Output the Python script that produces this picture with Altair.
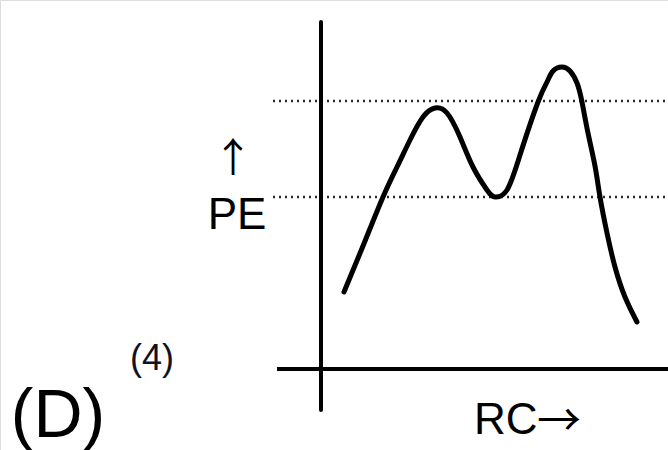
import altair as alt
import pandas as pd

# Potential-energy profile along the reaction coordinate (arbitrary units)
rc = [2.3, 4.2, 6.2, 7.6, 8.9, 10.2, 11.4, 12.6, 13.9, 15.2, 16.6, 17.4,
      18.6, 19.9, 21.7, 22.6, 23.2, 24.1, 24.9, 25.6, 26.1, 26.7, 27.4,
      27.9, 28.6, 29.4, 30.4, 31.6]
pe = [7.7, 12.3, 17.2, 20.2, 22.9, 25.2, 26.1, 25.6, 23.2, 20.2, 17.9, 17.2,
      17.9, 21.4, 26.7, 28.7, 29.8, 30.2, 29.8, 28.6, 26.7, 23.6, 20.3,
      17.2, 13.6, 10.2, 7.2, 4.7]

# Reference energy levels (dotted guides)
levels = [26.8, 17.2]

# Axis extents
x_axis_span = [-4.4, 34.7]
y_axis_span = [-4.1, 34.7]
guide_span = [-4.8, 34.7]

X_DOMAIN = [-32.1, 34.7]
Y_DOMAIN = [-8.1, 36.9]

xs = alt.Scale(domain=X_DOMAIN, nice=False, zero=False)
ys = alt.Scale(domain=Y_DOMAIN, nice=False, zero=False)
noax = None

curve_df = pd.DataFrame({"rc": rc, "pe": pe, "i": range(len(rc))})
guides_df = pd.DataFrame({"x": [guide_span[0]] * len(levels),
                          "x2": [guide_span[1]] * len(levels),
                          "y": levels})
xaxis_df = pd.DataFrame({"x": [x_axis_span[0]], "x2": [x_axis_span[1]], "y": [0.0]})
yaxis_df = pd.DataFrame({"x": [0.0], "y": [y_axis_span[0]], "y2": [y_axis_span[1]]})

guides = alt.Chart(guides_df).mark_rule(
    color="#2a2a2a", strokeWidth=2.5, strokeDash=[2, 4]
).encode(
    x=alt.X("x:Q", scale=xs, axis=noax),
    x2="x2:Q",
    y=alt.Y("y:Q", scale=ys, axis=noax),
)

x_line = alt.Chart(xaxis_df).mark_rule(color="black", strokeWidth=4).encode(
    x=alt.X("x:Q", scale=xs, axis=noax),
    x2="x2:Q",
    y=alt.Y("y:Q", scale=ys, axis=noax),
)

y_line = alt.Chart(yaxis_df).mark_rule(color="black", strokeWidth=4, strokeCap="round").encode(
    x=alt.X("x:Q", scale=xs, axis=noax),
    y=alt.Y("y:Q", scale=ys, axis=noax),
    y2="y2:Q",
)

curve = alt.Chart(curve_df).mark_line(
    color="black", strokeWidth=5, interpolate="natural", strokeCap="round"
).encode(
    x=alt.X("rc:Q", scale=xs, axis=noax),
    y=alt.Y("pe:Q", scale=ys, axis=noax),
    order="i:Q",
)

font = "Liberation Sans"
arrow_font = "Noto Sans CJK SC"

def label(txt, x, y, size, align="left", color="black", fnt=font, baseline="alphabetic"):
    return alt.Chart(pd.DataFrame({"t": [txt]})).mark_text(
        font=fnt, fontSize=size, align=align, baseline=baseline, color=color
    ).encode(x=alt.value(x), y=alt.value(y), text="t:N")

texts = [
    label("\u2191", 233, 160, 40, align="center", fnt=arrow_font, baseline="middle"),
    label("PE", 237, 229, 44, align="center"),
    label("RC", 474, 434, 44, align="left"),
    label("\u2192", 559, 423, 44, align="center", fnt=arrow_font, baseline="middle"),
    label("(D)", 58, 437, 68, align="center"),
    label("(4)", 152, 370, 36, align="center", color="#111122"),
]

chart = alt.layer(guides, x_line, y_line, curve, *texts).properties(
    width=668, height=450, padding=0, autosize=alt.AutoSizeParams(type="none")
).configure_view(stroke=None).configure(background="white")

chart.save("out.html", embed_options={"renderer": "svg", "actions": False})
